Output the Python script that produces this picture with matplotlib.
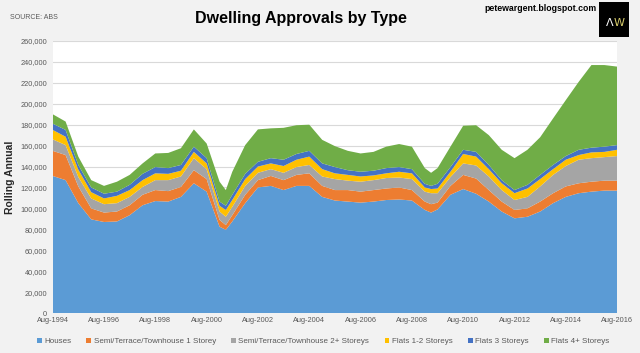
import pandas as pd
import numpy as np
import matplotlib.pyplot as plt
import matplotlib.dates as mdates
from matplotlib.patches import Patch, Rectangle
from matplotlib.ticker import FuncFormatter

plt.rcParams["font.family"] = ["Liberation Sans", "DejaVu Sans"]

# rolling annual approvals (thousands)
dates = ["1994-08", "1995-02", "1995-08", "1996-02", "1996-08", "1997-02", "1997-08",
         "1998-02", "1998-08", "1999-02", "1999-08", "2000-02", "2000-08", "2001-02",
         "2001-05", "2001-08", "2002-02", "2002-08", "2003-02", "2003-08", "2004-02",
         "2004-08", "2005-02", "2005-08", "2006-02", "2006-08", "2007-02", "2007-08",
         "2008-02", "2008-08", "2009-02", "2009-05", "2009-08", "2010-02", "2010-08",
         "2011-02", "2011-08", "2012-02", "2012-08", "2013-02", "2013-08", "2014-02",
         "2014-08", "2015-02", "2015-08", "2016-02", "2016-08"]

houses = [131, 127, 105, 89.5, 87, 87.5, 93.5, 103, 107, 106.5, 111, 124, 116, 82.5,
          79.5, 87.5, 105, 120, 121.5, 117.5, 121.5, 121.5, 111, 107.5, 106.5, 105.5,
          106.5, 108, 108.5, 107.5, 98.5, 96, 99, 113, 118.5, 114, 106.5, 97, 90.5,
          92, 97, 105, 111, 114.5, 116, 117, 117]
semi_1 = [24, 24, 16, 10.5, 9, 9.5, 9.5, 10, 10.5, 10, 9.5, 12.5, 12, 6.5,
          4.5, 6, 8, 7, 9.5, 9.5, 10.5, 12, 10.5, 10, 11, 10.5,
          11, 11, 11.5, 10, 8, 8, 6.5, 8.5, 13.5, 14.5, 11, 9.5, 8,
          8, 9.5, 9.5, 10, 9.5, 9.5, 9.5, 9.5]
semi_2 = [11, 9.5, 9, 9.5, 8, 8, 8, 7.5, 9.5, 10.5, 10, 11.5, 9.5, 8,
          8, 8, 8.5, 7, 6.5, 7, 7.5, 8, 9, 10.5, 9, 9.5,
          9.5, 10, 9.5, 10.5, 9.5, 10.5, 9, 8.5, 11, 12.5, 13, 11, 9.5,
          11, 14.5, 17.5, 19.5, 22.5, 22.5, 22.5, 23.5]
flats_12 = [9, 8, 7, 6, 5.5, 7, 6.5, 6.5, 6.5, 6, 5.5, 6, 5.5, 5.5,
            6.5, 6.5, 6.5, 6, 5.5, 6.5, 7, 8, 7, 5.5, 5.5, 5,
            4.5, 4.5, 5.5, 5.5, 4, 4, 4.5, 5, 9, 8.5, 7, 6.5, 6.5,
            8, 7, 5.5, 6, 4.5, 5.5, 5, 6]
flats_3 = [6, 6.5, 4.5, 4.5, 4.5, 4, 5, 6, 6, 5.5, 5.5, 5, 5, 4,
           4, 5, 5, 4.5, 5, 6, 5.5, 5.5, 5.5, 6, 4.5, 4.5,
           4.5, 5, 4.5, 4, 3.5, 3, 4.5, 4.5, 4, 4.5, 4, 3, 3,
           3.5, 4, 4, 3.5, 5, 4.5, 5, 4.5]
flats_4 = [9, 8, 8, 7, 7.5, 9.5, 9.5, 10, 13, 14.5, 16, 16.5, 14, 19,
           15, 22, 27.5, 31, 28.5, 30.5, 27.5, 25, 22.5, 20, 18.5, 17.5,
           18, 20.5, 22, 21.5, 15, 12.5, 15, 19.5, 23, 25.5, 28.5, 29, 30.5,
           33.5, 36, 44.5, 53.5, 65, 79, 78, 75]

labels = ["Houses", "Semi/Terrace/Townhouse 1 Storey", "Semi/Terrace/Townhouse 2+ Storeys",
          "Flats 1-2 Storeys", "Flats 3 Storeys", "Flats 4+ Storeys"]
colors = ["#5B9BD5", "#ED7D31", "#A5A5A5", "#FFC000", "#4472C4", "#70AD47"]

x = pd.to_datetime(dates)
series = [np.array(s) * 1000 for s in [houses, semi_1, semi_2, flats_12, flats_3, flats_4]]

fig = plt.figure(figsize=(6.4, 3.53), dpi=100, facecolor="#F2F2F2")
ax = fig.add_axes([0.0823, 0.1133, 0.882, 0.7706])
ax.set_facecolor("white")

ax.stackplot(x, *series, colors=colors, linewidth=0, zorder=2)

ax.set_ylim(0, 260000)
ax.set_xlim(x[0], x[-1])
ax.set_yticks(np.arange(0, 260001, 20000))
ax.yaxis.set_major_formatter(FuncFormatter(lambda v, p: f"{int(v):,}"))
ax.grid(axis="y", color="#D9D9D9", linewidth=0.8, zorder=0)
ax.set_axisbelow(True)

xt = pd.to_datetime([f"{y}-08-01" for y in range(1994, 2017, 2)])
ax.set_xticks(xt)
ax.xaxis.set_major_formatter(mdates.DateFormatter("%b-%Y"))
ax.tick_params(axis="both", length=0, labelsize=5.3, labelcolor="#595959")
ax.tick_params(axis="x", pad=3)
ax.tick_params(axis="y", pad=4)
for s in ax.spines.values():
    s.set_visible(False)

ax.set_ylabel("Rolling Annual", fontsize=7.5, fontweight="bold", color="#262626")
ax.yaxis.set_label_coords(-0.066, 0.5)

fig.text(0.47, 0.947, "Dwelling Approvals by Type", ha="center", va="center",
         fontsize=11.5, fontweight="bold", color="black")
fig.text(0.016, 0.95, "SOURCE: ABS", ha="left", va="center", fontsize=5, color="#595959")
fig.text(0.757, 0.975, "petewargent.blogspot.com", ha="left", va="center",
         fontsize=6.3, fontweight="bold", color="black")

# logo box
fig.patches.append(Rectangle((0.936, 0.895), 0.047, 0.10, transform=fig.transFigure,
                             facecolor="black", edgecolor="none"))
fig.text(0.952, 0.935, "\u039b", ha="center", va="center", fontsize=8,
         color="white", family=["DejaVu Sans"])
fig.text(0.967, 0.935, "W", ha="center", va="center", fontsize=8,
         color="#D6CB6B", family=["DejaVu Sans"])

handles = [Patch(facecolor=c, edgecolor="none") for c in colors]
fig.legend(handles, labels, loc="center", bbox_to_anchor=(0.505, 0.032), ncol=6,
           frameon=False, fontsize=5.8, handlelength=0.6, handleheight=0.6,
           handletextpad=0.3, columnspacing=1.9, labelcolor="#595959")

fig.savefig("out.png", dpi=100, facecolor=fig.get_facecolor())
